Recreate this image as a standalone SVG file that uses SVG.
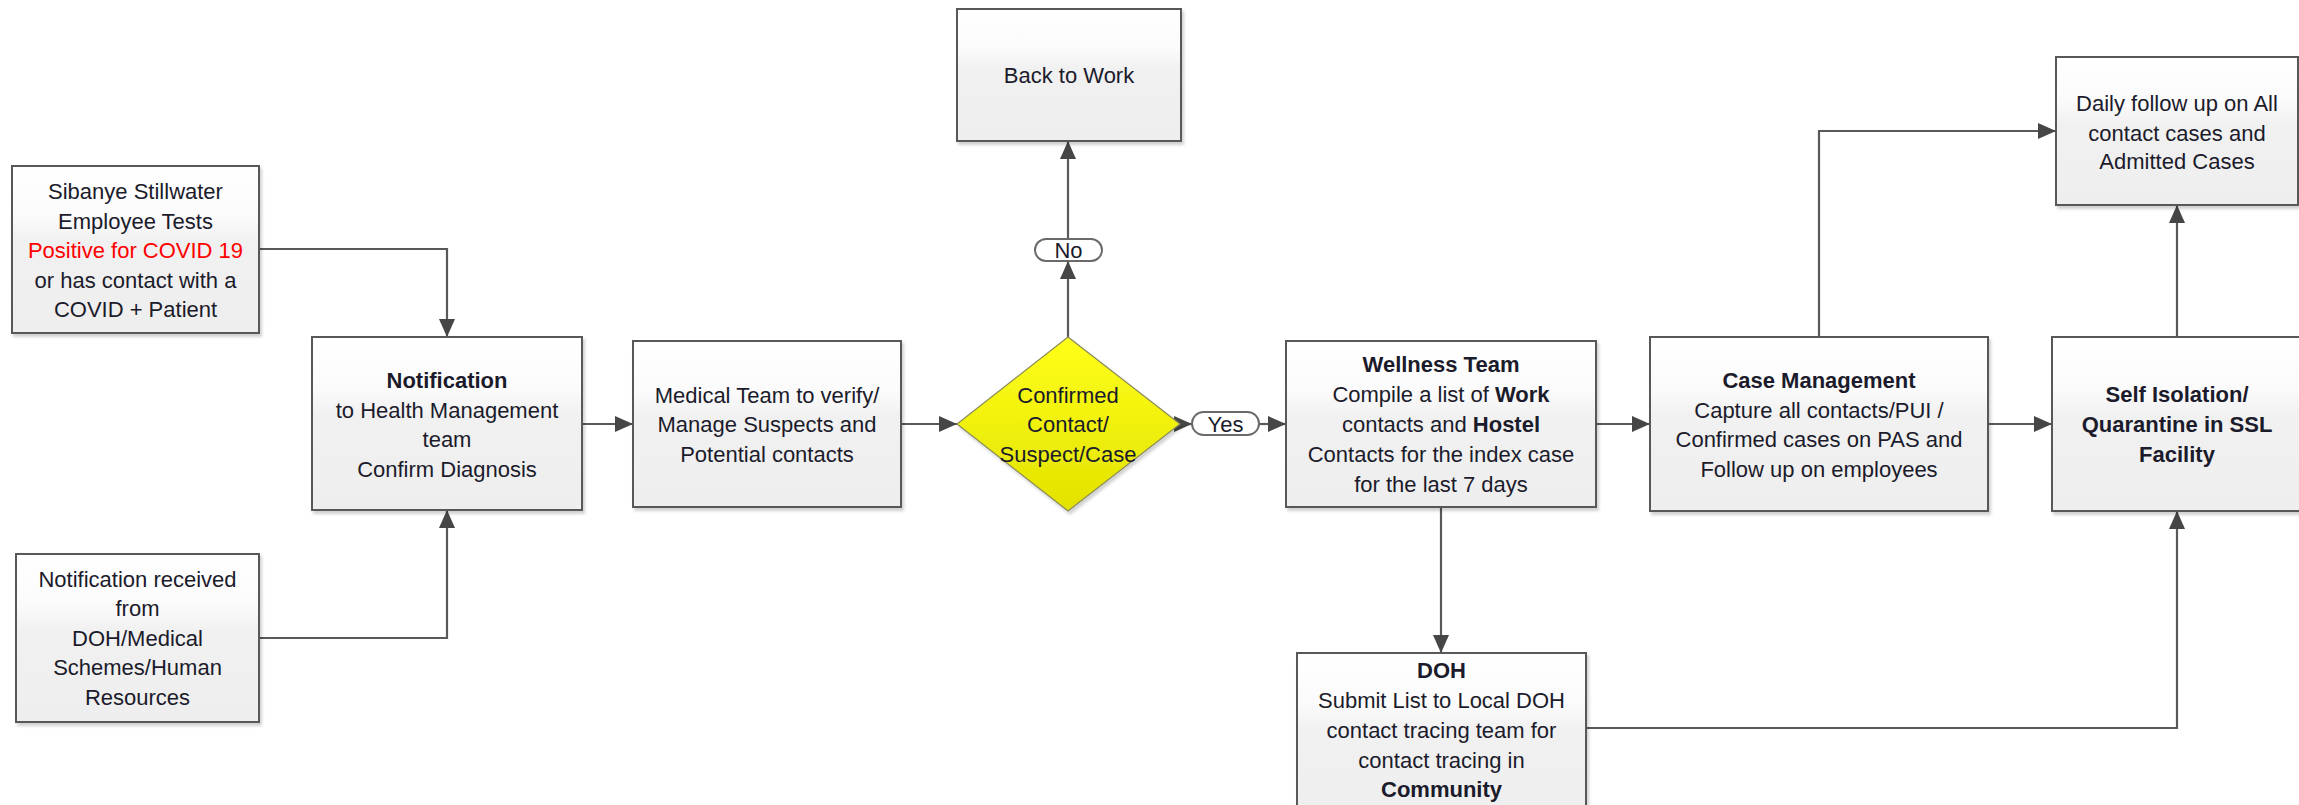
<svg xmlns="http://www.w3.org/2000/svg" width="2299" height="805" viewBox="0 0 2299 805">
<style>
.box{fill:url(#boxfill);stroke:#595959;stroke-width:2;filter:url(#shadow)}
.dia{fill:url(#yel);stroke:#8a8a5a;stroke-width:1.2;filter:url(#shadow)}
.pill{fill:#ffffff;stroke:#6a6a6a;stroke-width:2}
text{font-family:"Liberation Sans",Arial,sans-serif;font-size:22px;fill:#1b1b2b;text-anchor:middle}
.b{font-weight:bold}
.red{fill:#ff0000}
.con{fill:none;stroke:#595959;stroke-width:2.2}
.arr{marker-end:url(#ah)}
</style>
<defs>
<linearGradient id="boxfill" x1="0" y1="0" x2="0" y2="1">
<stop offset="0" stop-color="#ffffff"/>
<stop offset="0.3" stop-color="#fbfbfb"/>
<stop offset="0.45" stop-color="#f1f1f1"/>
<stop offset="1" stop-color="#eeeeee"/>
</linearGradient>
<linearGradient id="yel" x1="0" y1="0" x2="0" y2="1">
<stop offset="0" stop-color="#ffff1a"/>
<stop offset="1" stop-color="#e2e200"/>
</linearGradient>
<filter id="shadow" x="-5%" y="-5%" width="115%" height="115%">
<feDropShadow dx="2" dy="3" stdDeviation="1.6" flood-color="#000" flood-opacity="0.18"/>
</filter>
<marker id="ah" markerUnits="userSpaceOnUse" markerWidth="18" markerHeight="16" refX="18" refY="8" orient="auto">
<path d="M0,0 L18,8 L0,16 z" fill="#464646"/>
</marker>
</defs>

<g id="connectors">
<path class="con arr" d="M259,249 H447 V337"/>
<path class="con arr" d="M259,638 H447 V510"/>
<path class="con arr" d="M582,424 H633"/>
<path class="con arr" d="M901,424 H957"/>
<path class="con arr" d="M1068,337 V261"/>
<path class="con arr" d="M1068,239 V141"/>
<path class="con arr" d="M1180,424 H1192"/>
<path class="con arr" d="M1259,424 H1286"/>
<path class="con arr" d="M1596,424 H1650"/>
<path class="con arr" d="M1441,507 V653"/>
<path class="con arr" d="M1988,424 H2052"/>
<path class="con arr" d="M1819,337 V131 H2056"/>
<path class="con arr" d="M2177,337 V205"/>
<path class="con arr" d="M1586,728 H2177 V511"/>
</g>

<g id="node-sibanye">
<rect class="box" x="12" y="166" width="247" height="167"/>
<text x="135.5" y="199">Sibanye Stillwater</text>
<text x="135.5" y="228.5">Employee Tests</text>
<text x="135.5" y="258" class="red">Positive for COVID 19</text>
<text x="135.5" y="287.5">or has contact with a</text>
<text x="135.5" y="317">COVID + Patient</text>
</g>

<g id="node-received">
<rect class="box" x="16" y="554" width="243" height="168"/>
<text x="137.5" y="587">Notification received</text>
<text x="137.5" y="616">from</text>
<text x="137.5" y="645.5">DOH/Medical</text>
<text x="137.5" y="675">Schemes/Human</text>
<text x="137.5" y="704.5">Resources</text>
</g>

<g id="node-notification">
<rect class="box" x="312" y="337" width="270" height="173"/>
<text x="447" y="388" class="b">Notification</text>
<text x="447" y="417.5">to Health Management</text>
<text x="447" y="447">team</text>
<text x="447" y="476.5">Confirm Diagnosis</text>
</g>

<g id="node-medical">
<rect class="box" x="633" y="341" width="268" height="166"/>
<text x="767" y="402.5">Medical Team to verify/</text>
<text x="767" y="432">Manage Suspects and</text>
<text x="767" y="461.5">Potential contacts</text>
</g>

<g id="node-decision">
<polygon class="dia" points="1068,337 1180,424 1068,511 957,424"/>
<text x="1068" y="402.5">Confirmed</text>
<text x="1068" y="432">Contact/</text>
<text x="1068" y="461.5">Suspect/Case</text>
</g>

<g id="label-no">
<rect class="pill" x="1035" y="239" width="67" height="22" rx="11"/>
<text x="1068.5" y="258">No</text>
</g>

<g id="label-yes">
<rect class="pill" x="1192" y="412" width="67" height="23" rx="11.5"/>
<text x="1225.5" y="431.5">Yes</text>
</g>

<g id="node-backtowork">
<rect class="box" x="957" y="9" width="224" height="132"/>
<text x="1069" y="83">Back to Work</text>
</g>

<g id="node-wellness">
<rect class="box" x="1286" y="341" width="310" height="166"/>
<text x="1441" y="372" class="b">Wellness Team</text>
<text x="1441" y="402">Compile a list of <tspan class="b">Work</tspan></text>
<text x="1441" y="432">contacts and <tspan class="b">Hostel</tspan></text>
<text x="1441" y="462">Contacts for the index case</text>
<text x="1441" y="491.5">for the last 7 days</text>
</g>

<g id="node-doh">
<rect class="box" x="1297" y="653" width="289" height="170"/>
<text x="1441.5" y="678" class="b">DOH</text>
<text x="1441.5" y="708">Submit List to Local DOH</text>
<text x="1441.5" y="738">contact tracing team for</text>
<text x="1441.5" y="767.5">contact tracing in</text>
<text x="1441.5" y="797" class="b">Community</text>
</g>

<g id="node-casemgmt">
<rect class="box" x="1650" y="337" width="338" height="174"/>
<text x="1819" y="388" class="b">Case Management</text>
<text x="1819" y="417.5">Capture all contacts/PUI /</text>
<text x="1819" y="447">Confirmed cases on PAS and</text>
<text x="1819" y="476.5">Follow up on employees</text>
</g>

<g id="node-selfiso">
<rect class="box" x="2052" y="337" width="256" height="174"/>
<text x="2177" y="402" class="b">Self Isolation/</text>
<text x="2177" y="432" class="b">Quarantine in SSL</text>
<text x="2177" y="462" class="b">Facility</text>
</g>

<g id="node-daily">
<rect class="box" x="2056" y="57" width="242" height="148"/>
<text x="2177" y="111">Daily follow up on All</text>
<text x="2177" y="140.5">contact cases and</text>
<text x="2177" y="169">Admitted Cases</text>
</g>
</svg>
